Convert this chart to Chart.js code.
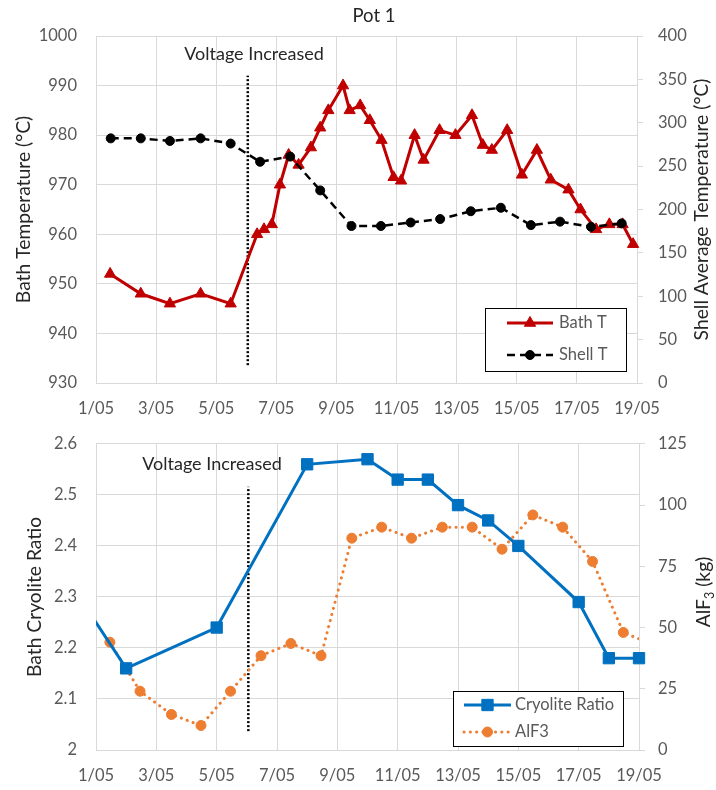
<!DOCTYPE html>
<html>
<head>
<meta charset="utf-8">
<title>Pot 1</title>
<script src="https://cdn.jsdelivr.net/npm/chart.js@4.4.1/dist/chart.umd.min.js"></script>
<style>
  html, body { margin: 0; padding: 0; background: #fff; }
  #wrap { position: relative; width: 716px; height: 790px; }
  canvas { position: absolute; left: 0; }
</style>
</head>
<body>
<div id="wrap">
  <canvas id="tempChart" width="716" height="415" style="top:0"></canvas>
  <canvas id="ratioChart" width="716" height="375" style="top:415px"></canvas>
</div>
<script>
// ---- x axis: day of May ----
const tickDays = [1, 3, 5, 7, 9, 11, 13, 15, 17, 19];
const tickLabels = ['1/05', '3/05', '5/05', '7/05', '9/05', '11/05', '13/05', '15/05', '17/05', '19/05'];

// ---- Pot 1 temperatures ----
const bathDays = [1.47, 2.49, 3.46, 4.48, 5.48, 6.36, 6.59, 6.85, 7.12, 7.41, 7.74, 8.15, 8.46, 8.73,
                  9.22, 9.44, 9.79, 10.11, 10.5, 10.9, 11.15, 11.6, 11.9, 12.43, 12.96, 13.51, 13.87,
                  14.17, 14.68, 15.17, 15.67, 16.13, 16.72, 17.12, 17.64, 18.08, 18.52, 18.87];
const bathT = [952, 948, 946, 948, 946, 960, 961, 962, 970, 976, 974, 977.5, 981.5, 985,
               990, 985, 986, 983, 979, 971.5, 970.8, 980, 975, 981, 980, 984, 978,
               977, 981, 972, 977, 971, 969, 965, 961, 962, 962, 958];

const shellDays = [1.49, 2.49, 3.46, 4.48, 5.48, 6.46, 7.46, 8.46, 9.5, 10.48, 11.47, 12.45,
                   13.47, 14.47, 15.47, 16.44, 17.47, 18.49];
const shellT = [282, 282, 279, 282, 276, 255, 261, 222, 181, 181, 185, 189,
                198, 202, 182, 186, 180, 184];

// ---- bath chemistry ----
const ratioDays = [0, 2, 5, 8, 10, 11, 12, 13, 14, 15, 17, 18, 19];
const cryoliteRatio = [2.34, 2.16, 2.24, 2.56, 2.57, 2.53, 2.53, 2.48, 2.45, 2.40, 2.29, 2.18, 2.18];

const alf3Days = [1.46, 2.46, 3.5, 4.48, 5.46, 6.47, 7.46, 8.46, 9.48, 10.47, 11.46, 12.48,
                  13.47, 14.46, 15.48, 16.47, 17.46, 18.48, 19.47];
const alf3Kg = [44, 24, 14.5, 10, 24, 38.5, 43.5, 38.5, 86.5, 91, 86.5, 91,
                91, 82, 96, 91, 77, 48, 43];

// ---- voltage change marker ----
const voltageDay = [6.05, 6.05];
const voltageBathT = [933.6, 992];
const voltageRatio = [2.037, 2.516];

const FONT = 'Lato, "Open Sans", "DejaVu Sans", sans-serif';
const TICK_GREY = '#595959';
const DARK = '#262626';
const GRID = '#D9D9D9';
const TITLE_SIZE = 19.3;

Chart.defaults.font.family = FONT;
Chart.defaults.font.size = 16.5;
Chart.defaults.color = TICK_GREY;

const pts = (xs, ys) => xs.map((x, i) => ({ x, y: ys[i] }));

// Boxed legend drawn inside the plot area
const boxLegend = {
  id: 'boxLegend',
  afterDatasetsDraw(chart, args, o) {
    if (!o || !o.datasets) return;
    const { ctx, chartArea: a } = chart;
    const x0 = Math.round(a.right - o.right - o.width);
    const y0 = Math.round(a.bottom - o.bottom - o.height);
    ctx.save();
    ctx.fillStyle = '#fff';
    ctx.fillRect(x0, y0, o.width, o.height);
    ctx.strokeStyle = '#000';
    ctx.lineWidth = 1;
    ctx.strokeRect(x0 + 0.5, y0 + 0.5, o.width, o.height);
    o.datasets.forEach((idx, i) => {
      const d = chart.data.datasets[idx];
      const y = y0 + o.rows[i];
      ctx.save();
      ctx.beginPath();
      ctx.setLineDash(d.borderDash || []);
      ctx.lineCap = d.borderCapStyle || 'butt';
      ctx.strokeStyle = d.borderColor;
      ctx.lineWidth = d.borderWidth;
      ctx.moveTo(x0 + o.lineStart, y);
      ctx.lineTo(x0 + o.lineEnd, y);
      ctx.stroke();
      ctx.setLineDash([]);
      ctx.fillStyle = d.pointBackgroundColor;
      ctx.strokeStyle = d.pointBorderColor;
      ctx.lineWidth = d.pointBorderWidth;
      Chart.helpers.drawPoint(ctx, {
        pointStyle: d.pointStyle, radius: d.pointRadius, rotation: 0, borderWidth: d.pointBorderWidth
      }, x0 + (o.lineStart + o.lineEnd) / 2, y);
      ctx.restore();
      ctx.fillStyle = TICK_GREY;
      ctx.font = `16.5px ${FONT}`;
      ctx.textAlign = 'left';
      ctx.textBaseline = 'middle';
      ctx.fillText(d.label, x0 + o.textX, y);
    });
    ctx.restore();
  }
};

// Free text: chart heading, annotation and rotated right-hand axis titles (with subscripts)
const textMarks = {
  id: 'textMarks',
  afterDraw(chart, args, o) {
    if (!o || !o.items) return;
    const ctx = chart.ctx;
    for (const t of o.items) {
      ctx.save();
      ctx.translate(t.x, t.y);
      if (t.rotate) ctx.rotate(t.rotate);
      ctx.fillStyle = t.color || DARK;
      ctx.textBaseline = 'middle';
      ctx.textAlign = 'left';
      const parts = t.parts || [{ text: t.text }];
      const subSize = t.size * 0.65;
      let total = 0;
      for (const p of parts) {
        ctx.font = `${p.sub ? subSize : t.size}px ${FONT}`;
        p.w = ctx.measureText(p.text).width;
        total += p.w;
      }
      let x = -total / 2;
      for (const p of parts) {
        ctx.font = `${p.sub ? subSize : t.size}px ${FONT}`;
        ctx.fillText(p.text, x, p.sub ? t.size * 0.3 : 0);
        x += p.w;
      }
      ctx.restore();
    }
  }
};

function xAxis(height) {
  return {
    type: 'linear', min: 1, max: 19,
    afterBuildTicks: s => { s.ticks = tickDays.map(v => ({ value: v })); },
    afterFit: s => { s.height = height; },
    ticks: {
      autoSkip: false, maxRotation: 0, padding: 16, color: TICK_GREY,
      callback: v => { const i = tickDays.indexOf(v); return i >= 0 ? tickLabels[i] : ''; }
    },
    grid: { color: GRID, lineWidth: 1, drawTicks: false },
    border: { color: GRID }
  };
}

function leftAxis(min, max, step, title, titlePad, fmt) {
  return {
    type: 'linear', position: 'left', min, max,
    afterFit: s => { s.width = 96; },
    ticks: { stepSize: step, padding: 19, color: TICK_GREY, callback: fmt },
    grid: { color: GRID, lineWidth: 1, drawTicks: false },
    border: { color: GRID },
    title: { display: true, text: title, color: DARK, font: { size: TITLE_SIZE }, padding: { top: titlePad, bottom: 0 } }
  };
}

function rightAxis(min, max, step, width, pad) {
  return {
    type: 'linear', position: 'right', min, max,
    afterFit: s => { s.width = width; },
    ticks: { stepSize: step, padding: pad, color: TICK_GREY },
    grid: { drawOnChartArea: false, drawTicks: true, tickLength: 6, color: GRID },
    border: { color: GRID }
  };
}

// ---------------- Temperatures ----------------
new Chart(document.getElementById('tempChart'), {
  type: 'line',
  data: {
    datasets: [
      {
        label: 'Bath T', yAxisID: 'y', order: 2, clip: false,
        data: pts(bathDays, bathT),
        borderColor: '#C00000', borderWidth: 3,
        pointStyle: 'triangle', pointRadius: 6.5,
        pointBackgroundColor: '#C00000', pointBorderColor: '#C00000', pointBorderWidth: 1
      },
      {
        label: 'Shell T', yAxisID: 'y1', order: 1, clip: false,
        data: pts(shellDays, shellT),
        borderColor: '#000000', borderWidth: 2.5, borderDash: [8, 5],
        pointStyle: 'circle', pointRadius: 4.5,
        pointBackgroundColor: '#000000', pointBorderColor: '#000000', pointBorderWidth: 1
      },
      {
        label: 'Voltage Increased', yAxisID: 'y', order: 3,
        data: pts(voltageDay, voltageBathT),
        borderColor: '#000000', borderWidth: 2.5, borderDash: [2, 2],
        pointRadius: 0
      }
    ]
  },
  options: {
    responsive: false, animation: false, events: [],
    layout: { padding: { top: 36, left: 0, right: 0, bottom: 0 } },
    scales: {
      x: xAxis(32),
      y: leftAxis(930, 1000, 10, 'Bath Temperature (°C)', 12.4),
      y1: rightAxis(0, 400, 50, 79, 15)
    },
    plugins: {
      legend: { display: false },
      tooltip: { enabled: false },
      boxLegend: { datasets: [0, 1], right: 11, bottom: 12, width: 141, height: 63,
                   rows: [15, 47], lineStart: 22, lineEnd: 68, textX: 74 },
      textMarks: { items: [
        { text: 'Pot 1', x: 374, y: 16, size: 18.5 },
        { text: 'Voltage Increased', x: 254, y: 54, size: 18 },
        { text: 'Shell Average Temperature (°C)', x: 702, y: 209.5, size: TITLE_SIZE, rotate: -Math.PI / 2 }
      ] }
    }
  },
  plugins: [boxLegend, textMarks]
});

// ---------------- Cryolite ratio & AlF3 ----------------
new Chart(document.getElementById('ratioChart'), {
  type: 'line',
  data: {
    datasets: [
      {
        label: 'Cryolite Ratio', yAxisID: 'y', order: 1,
        clip: { left: 0, right: false, top: false, bottom: false },
        data: pts(ratioDays, cryoliteRatio),
        borderColor: '#0070C0', borderWidth: 3,
        pointStyle: 'rect', pointRadius: 8,
        pointBackgroundColor: '#0070C0', pointBorderColor: '#0070C0', pointBorderWidth: 1
      },
      {
        label: 'AlF3', yAxisID: 'y1', order: 2,
        clip: { left: false, right: 0, top: false, bottom: false },
        data: pts(alf3Days, alf3Kg),
        borderColor: '#ED7D31', borderWidth: 3, borderDash: [0.1, 6.2], borderCapStyle: 'round',
        pointStyle: 'circle', pointRadius: 5,
        pointBackgroundColor: '#ED7D31', pointBorderColor: '#ED7D31', pointBorderWidth: 1
      },
      {
        label: 'Voltage Increased', yAxisID: 'y', order: 3,
        data: pts(voltageDay, voltageRatio),
        borderColor: '#000000', borderWidth: 2.5, borderDash: [2, 2],
        pointRadius: 0
      }
    ]
  },
  options: {
    responsive: false, animation: false, events: [],
    layout: { padding: { top: 19, left: 0, right: 0, bottom: 0 } },
    scales: {
      x: xAxis(40),
      y: leftAxis(2, 2.6, 0.1, 'Bath Cryolite Ratio', 23.4, v => String(+v.toFixed(1))),
      y1: rightAxis(0, 125, 25, 77, 13)
    },
    plugins: {
      legend: { display: false },
      tooltip: { enabled: false },
      boxLegend: { datasets: [0, 1], right: 16.5, bottom: 4.5, width: 170, height: 55,
                   rows: [14, 41], lineStart: 11, lineEnd: 58, textX: 62 },
      textMarks: { items: [
        { text: 'Voltage Increased', x: 212, y: 49.5, size: 18 },
        { parts: [{ text: 'AlF' }, { text: '3', sub: true }, { text: ' (kg)' }],
          x: 704, y: 177, size: TITLE_SIZE, rotate: -Math.PI / 2 }
      ] }
    }
  },
  plugins: [boxLegend, textMarks]
});
</script>
</body>
</html>
